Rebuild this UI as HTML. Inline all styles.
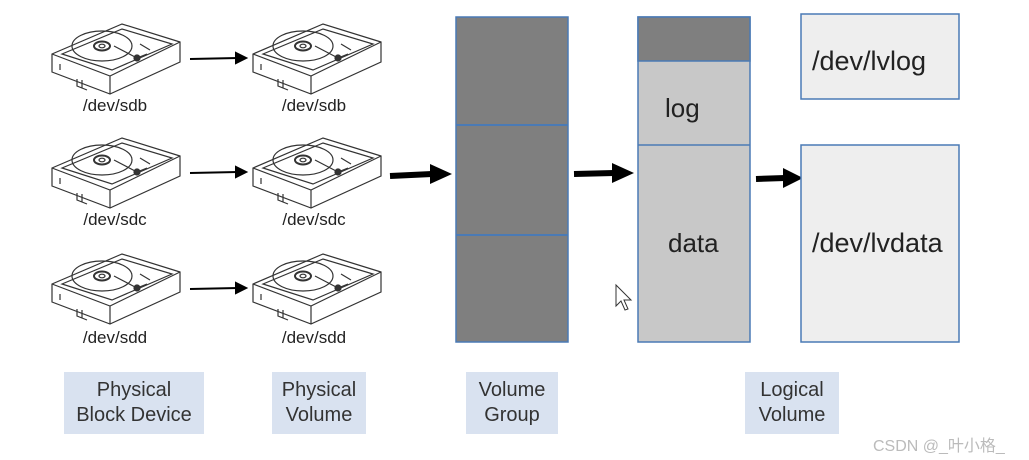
<!DOCTYPE html>
<html><head><meta charset="utf-8"><style>
body{margin:0;width:1029px;height:460px;background:#fff;position:relative;overflow:hidden;font-family:"Liberation Sans","Noto Sans CJK SC",sans-serif;}
.a{position:absolute}
.t{position:absolute;font-size:17px;color:#222;text-align:center;width:120px}
.lb{position:absolute;background:#d9e2f0;top:372px;height:62px;font-size:20px;color:#333;text-align:center;display:flex;align-items:center;justify-content:center;line-height:25px}
</style></head><body>
<svg class="a" style="left:0;top:0" width="1029" height="460">
<defs>
<g id="disk" fill="none" stroke="#333" stroke-width="1.2">
<path d="M0,30 L70,0 L128,18 L128,38 L58,70 L0,48 Z" fill="#fff"/>
<path d="M0,30 L58,52 L128,18 M58,52 L58,70"/>
<path d="M10,30 L70,5 L120,20 L60,46 Z"/>
<ellipse cx="50" cy="22" rx="30" ry="15"/>
<ellipse cx="50" cy="22" rx="8" ry="4.5" stroke-width="2"/>
<ellipse cx="50" cy="22" rx="3" ry="1.8"/>
<path d="M62,22 L85,34 L95,30 M88,20 L98,26"/>
<circle cx="85" cy="34" r="3" fill="#333"/>
<path d="M8,40 L8,46 M30,56 L30,64 M25,55 L25,62 L35,66"/>
</g>
<marker id="m" markerWidth="4" markerHeight="4" refX="2" refY="2" orient="auto"><path d="M0,0 L4,2 L0,4 Z" fill="#000"/></marker>
</defs>
<use href="#disk" x="52" y="24"/><use href="#disk" x="253" y="24"/>
<use href="#disk" x="52" y="138"/><use href="#disk" x="253" y="138"/>
<use href="#disk" x="52" y="254"/><use href="#disk" x="253" y="254"/>
<g stroke="#000" stroke-width="2">
<line x1="190" y1="59" x2="238" y2="58"/><path d="M236,53 L246,58 L236,63Z" fill="#000"/>
<line x1="190" y1="173" x2="238" y2="172"/><path d="M236,167 L246,172 L236,177Z" fill="#000"/>
<line x1="190" y1="289" x2="238" y2="288"/><path d="M236,283 L246,288 L236,293Z" fill="#000"/>
</g>
<g stroke="#000" stroke-width="6">
<line x1="390" y1="176" x2="432" y2="174"/><line x1="574" y1="174" x2="614" y2="173"/><line x1="756" y1="179" x2="785" y2="178"/>
</g>
<path d="M430,164 L452,174 L430,184Z"/><path d="M612,163 L634,173 L612,183Z"/><path d="M783,168 L803,178 L783,188Z"/>
<g stroke="#4a7ab5" stroke-width="1.5">
<rect x="456" y="17" width="112" height="325" fill="#7f7f7f"/>
<line x1="456" y1="125" x2="568" y2="125" stroke-width="2"/><line x1="456" y1="235" x2="568" y2="235" stroke-width="2"/>
<rect x="638" y="17" width="112" height="325" fill="#c8c8c8"/>
<rect x="638" y="17" width="112" height="44" fill="#7f7f7f"/>
<line x1="638" y1="145" x2="750" y2="145"/>
<rect x="801" y="14" width="158" height="85" fill="#eeeeee"/>
<rect x="801" y="145" width="158" height="197" fill="#eeeeee"/>
</g>
<path d="M616,285 L616,306 L621,301 L625,310 L628,309 L624,300 L631,300Z" fill="#fff" stroke="#333"/>
</svg>
<div class="t" style="left:55px;top:96px">/dev/sdb</div><div class="t" style="left:254px;top:96px">/dev/sdb</div>
<div class="t" style="left:55px;top:210px">/dev/sdc</div><div class="t" style="left:254px;top:210px">/dev/sdc</div>
<div class="t" style="left:55px;top:328px">/dev/sdd</div><div class="t" style="left:254px;top:328px">/dev/sdd</div>
<div class="a" style="left:665px;top:93px;font-size:26px;color:#222">log</div>
<div class="a" style="left:668px;top:228px;font-size:26px;color:#222">data</div>
<div class="a" style="left:812px;top:46px;font-size:27px;color:#222">/dev/lvlog</div>
<div class="a" style="left:812px;top:228px;font-size:27px;color:#222">/dev/lvdata</div>
<div class="lb" style="left:64px;width:140px">Physical<br>Block Device</div>
<div class="lb" style="left:272px;width:94px">Physical<br>Volume</div>
<div class="lb" style="left:466px;width:92px">Volume<br>Group</div>
<div class="lb" style="left:745px;width:94px">Logical<br>Volume</div>
<div class="a" style="left:873px;top:432px;font-size:16px;color:#bbb">CSDN @_叶小格_</div>
</body></html>
